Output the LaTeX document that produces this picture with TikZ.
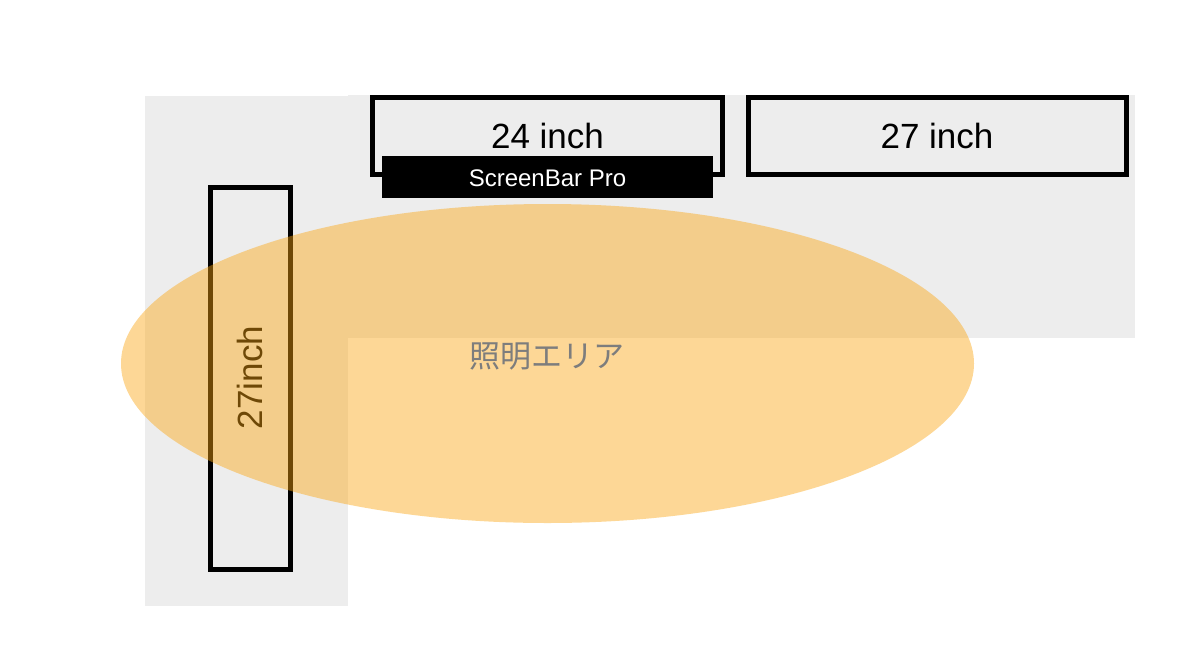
\documentclass[tikz,border=0pt]{standalone}
\usepackage{fontspec}
\setmainfont{Liberation Sans}
\newfontfamily\jpfont{Noto Sans CJK JP}
\definecolor{desk}{RGB}{237,237,237}
\definecolor{lightc}{RGB}{252,166,16}
\definecolor{labelgray}{RGB}{125,125,125}
\begin{document}
\begin{tikzpicture}[x=1pt,y=-1pt,
  monitor/.style={draw=black,line width=5pt,fill=desk,inner sep=0pt},
  bar/.style={fill=black,draw=none,inner sep=0pt},
  deskpart/.style={fill=desk,draw=none},
]
\useasboundingbox (0,0) rectangle (1200,662);
\fill[white] (0,0) rectangle (1200,662);
% desk (L shape)
\fill[deskpart] (145,96) rectangle (348,606);
\fill[deskpart] (348,95) rectangle (1135,338);
% monitors
\draw[monitor] (372,97.5) rectangle (722,174.5);
\node[font=\fontsize{35}{35}\selectfont] (m24) at (547.5,136) {24 inch};
\draw[monitor] (748.5,97.5) rectangle (1126.5,174.5);
\node[font=\fontsize{35}{35}\selectfont] (m27) at (937,136) {27 inch};
\draw[monitor] (210.5,187.5) rectangle (290,569.5);
\node[font=\fontsize{35}{35}\selectfont,rotate=90] (m27v) at (250,377.5) {27inch};
% screenbar
\fill[bar] (382,156) rectangle (713,198);
\node[text=white,font=\fontsize{24}{24}\selectfont] (sb) at (547.5,178) {ScreenBar Pro};
% lighting area
\fill[lightc,fill opacity=0.44] (547.5,363.5) ellipse [x radius=426.5, y radius=159.5];
\node[text=labelgray,font=\jpfont\fontsize{31}{31}\selectfont] (area) at (547,356) {照明エリア};
\end{tikzpicture}
\end{document}
